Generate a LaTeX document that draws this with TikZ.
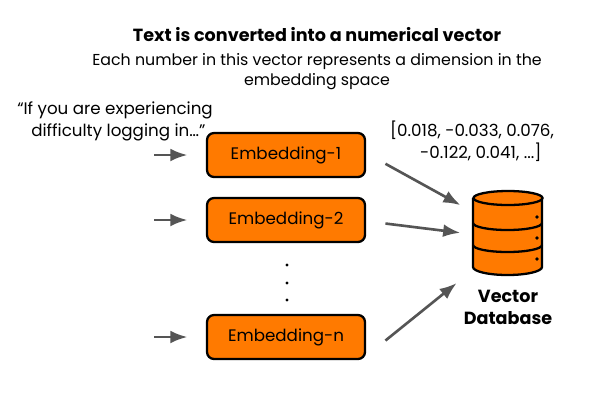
\documentclass[tikz,border=0pt]{standalone}
\usepackage{fontspec}
\setmainfont{Poppins}
\usetikzlibrary{arrows.meta,positioning}
\definecolor{embOrange}{HTML}{FF7A00}
\definecolor{arrGray}{HTML}{555555}
\tikzset{>=Latex}

\begin{document}
\begin{tikzpicture}[x=0.02cm,y=-0.02cm,
	emb/.style={draw,line width=1.3pt,fill=embOrange,rounded corners=4pt,minimum width=3.16cm,minimum height=0.88cm,font=\fontsize{9.5}{12}\selectfont},
	feed/.style={->,draw=arrGray,line width=1.5pt,shorten >=1pt}]
	\useasboundingbox (0,0) rectangle (607,400);
	\node[font=\bfseries\fontsize{10}{12}\selectfont] (title) at (317,35) {Text is converted into a numerical vector};
	\node[align=center,font=\fontsize{9}{11.5}\selectfont] (sub) at (317,72) {Each number in this vector represents a dimension in the\\embedding space};
	\node[align=left,font=\fontsize{9.5}{12.5}\selectfont] (quote) at (115,121) {“If you are experiencing\\\hspace*{8pt}difficulty logging in…”};

	\node[emb] (e1) at (286,155) {Embedding-1};
	\node[emb] (e2) at (286,220) {Embedding-2};
	\node[emb] (en) at (286,337) {Embedding-n};
	\foreach \y in {265,283,300} \fill (287,\y) circle (0.9pt);

	\node[align=center,font=\fontsize{9.5}{12.5}\selectfont] (vec) at (472,141) {[0.018, -0.033, 0.076,\\\hspace*{10pt}-0.122, 0.041, ...]};

	\foreach \n in {e1,e2,en} {
		\coordinate (in-\n) at ([xshift=-29.5pt]\n.west);
		\draw[feed] (in-\n) -- ([xshift=-9.5pt]\n.west);
	}

	% database
	\coordinate (db) at (508,198);
	\fill[embOrange] (473,198) -- (473,267) arc[start angle=180,end angle=360,x radius=34.5,y radius=-8] -- (542,198) -- cycle;
	\draw[line width=1.3pt,fill=embOrange] (db) ellipse[x radius=34.5,y radius=7];
	\draw[line width=1.3pt] (473,198) -- (473,267) arc[start angle=180,end angle=360,x radius=34.5,y radius=-8] -- (542,198);
	\foreach \y in {223,245} \draw[line width=1.3pt] (473,\y) arc[start angle=180,end angle=360,x radius=34.5,y radius=-7];
	\foreach \y in {217,238,259} \fill (537,\y) circle (1.1pt);
	\node[align=center,font=\bfseries\fontsize{10}{12.5}\selectfont] (dblabel) at (508,307) {Vector\\Database};

	\draw[feed] ([xshift=11pt,yshift=-5pt]e1.east) -- (462,206);
	\draw[feed] ([xshift=11pt,yshift=-2pt]e2.east) -- (462,233);
	\draw[feed] ([xshift=11pt,yshift=-2pt]en.east) -- (458,282);
\end{tikzpicture}
\end{document}
